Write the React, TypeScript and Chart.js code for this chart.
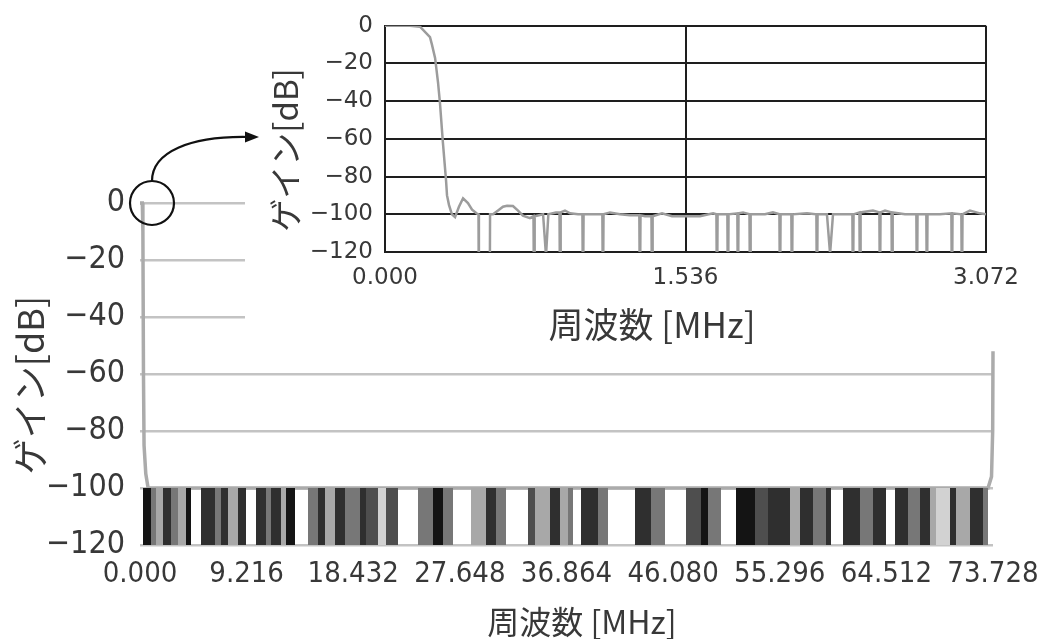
import React, { useEffect, useRef } from 'react';
import { Chart, registerables } from 'chart.js';
Chart.register(...registerables);

// ---------- tick values and labels ----------
const mainXTicks = [0, 9.216, 18.432, 27.648, 36.864, 46.08, 55.296, 64.512, 73.728];
const mainXTickLabels = ['0.000', '9.216', '18.432', '27.648', '36.864', '46.080', '55.296', '64.512', '73.728'];
const gainTicks = [0, -20, -40, -60, -80, -100, -120];
const gainTickLabels = ['0', '−20', '−40', '−60', '−80', '−100', '−120'];
const insetXTicks = [0, 1.536, 3.072];
const insetXTickLabels = ['0.000', '1.536', '3.072'];

const yTitle = 'ゲイン[dB]';
const xTitle = '周波数 [MHz]';

// ---------- main chart: response envelope ----------
const mainFreq = [0, 0.2, 0.25, 0.3, 0.35, 0.5, 0.7, 73.3, 73.6, 73.7, 73.728];
const mainGain = [0, 0, -10, -60, -85, -95, -100, -100, -96, -80, -52];

// ---------- main chart: dense noise floor bands (-100 .. below -120) ----------
const stripeStart = [0.259, 0.951, 1.383, 1.988, 2.679, 3.284, 3.976, 5.272, 6.483, 7.001, 7.606, 8.471,
  10.026, 10.891, 11.323, 12.187, 12.619, 14.521, 15.385, 15.99, 16.855, 17.719, 19.015, 19.534, 20.571,
  21.263, 24.029, 25.325, 26.189, 28.61, 29.906, 30.77, 33.536, 34.141, 35.438, 36.302, 36.994, 38.117,
  39.587, 42.785, 44.168, 47.193, 48.489, 49.094, 51.514, 53.157, 54.28, 56.182, 57.046, 58.17, 59.294,
  60.763, 62.232, 63.356, 65.258, 66.381, 67.419, 68.283, 68.802, 70.012, 70.53, 71.74, 72.864];
const stripeEnd = [0.951, 1.383, 1.988, 2.679, 3.284, 3.976, 4.408, 6.483, 7.001, 7.606, 8.471, 9.162,
  10.891, 11.323, 12.187, 12.619, 13.397, 15.385, 15.99, 16.855, 17.719, 19.015, 19.534, 20.571, 21.263,
  22.3, 25.325, 26.189, 27.054, 29.906, 30.77, 31.635, 34.141, 35.438, 36.302, 36.994, 37.426, 39.587,
  40.451, 44.168, 45.378, 48.489, 49.094, 50.218, 53.157, 54.28, 56.182, 57.046, 58.17, 59.294, 59.726,
  62.232, 63.356, 64.48, 66.381, 67.419, 68.283, 68.802, 70.012, 70.53, 71.74, 72.864, 73.296];
const stripeShade = ['B', 'M', 'L', 'D', 'M', 'L', 'B', 'D', 'M', 'D', 'L', 'D',
  'D', 'M', 'D', 'L', 'B', 'M', 'D', 'L', 'D', 'M', 'D', 'G', 'W',
  'G', 'M', 'B', 'M', 'L', 'D', 'M', 'G', 'L', 'D', 'L', 'M', 'D',
  'M', 'D', 'M', 'G', 'B', 'M', 'B', 'G', 'D', 'L', 'D', 'M', 'D',
  'D', 'M', 'D', 'D', 'M', 'D', 'L', 'W', 'D', 'L', 'D', 'M'];
const stripeTop = -100;
const shadeColors: Record<string, string> = {
  B: '#141414', D: '#2f2f2f', G: '#4e4e4e', M: '#777777', L: '#a8a8a8', W: '#d2d2d2',
};

// ---------- inset chart (0 .. 3.072 MHz) ----------
const insetFreq = [0, 0.128, 0.179, 0.23, 0.24, 0.256, 0.271, 0.281, 0.296, 0.312, 0.317, 0.327, 0.342,
  0.358, 0.378, 0.399, 0.424, 0.445, 0.469, 0.478, 0.48, 0.535, 0.537, 0.552, 0.578, 0.603, 0.624, 0.654,
  0.68, 0.705, 0.741, 0.759, 0.762, 0.765, 0.808, 0.823, 0.835, 0.874, 0.892, 0.895, 0.898, 0.92, 0.946,
  0.987, 1.009, 1.012, 1.015, 1.048, 1.089, 1.111, 1.114, 1.117, 1.15, 1.201, 1.252, 1.3, 1.303, 1.306,
  1.329, 1.362, 1.365, 1.368, 1.416, 1.467, 1.539, 1.61, 1.677, 1.694, 1.697, 1.7, 1.75, 1.753, 1.756,
  1.801, 1.804, 1.807, 1.83, 1.863, 1.866, 1.869, 1.942, 1.983, 2.016, 2.019, 2.022, 2.077, 2.08, 2.083,
  2.157, 2.205, 2.208, 2.211, 2.259, 2.275, 2.29, 2.351, 2.389, 2.392, 2.395, 2.425, 2.428, 2.431, 2.494,
  2.527, 2.53, 2.533, 2.556, 2.589, 2.592, 2.595, 2.658, 2.716, 2.719, 2.722, 2.767, 2.77, 2.773, 2.837,
  2.895, 2.898, 2.901, 2.946, 2.949, 2.952, 2.99, 3.041, 3.072];
const insetGain = [0, 0, -0.5, -6, -10, -17, -30, -41, -62, -82, -90, -95, -100,
  -101.5, -96, -91.5, -94, -97.5, -99.6, -100, -160, -160, -100, -100, -98, -96, -95.5, -95.6,
  -98, -100.7, -102, -101, -150, -101, -100, -122, -100, -99, -99, -150, -99, -98, -99.5,
  -100, -100, -150, -100, -100, -100, -100, -150, -100, -99, -100, -100.5, -100.5, -150, -100.5,
  -101, -101, -150, -101, -99.5, -101, -101, -101, -99.5, -100, -150, -100, -100, -150, -100,
  -99.5, -150, -99.5, -99, -100, -150, -100, -100, -99, -100, -150, -100, -100, -150, -100,
  -99.5, -100, -150, -100, -100, -121, -100, -100, -100, -150, -100, -99, -150, -99, -98,
  -99, -150, -99, -98, -99, -150, -99, -100, -100, -150, -100, -100, -150, -100, -100,
  -99.5, -150, -99.5, -100, -150, -100, -98, -99.5, -100];

// ---------- styling ----------
const TEXT = '#383838';
const mainXTickFont = { family: "'DejaVu Sans Condensed', 'DejaVu Sans', sans-serif", size: 29, weight: 'normal' as const };
const mainYTickFont = { family: "'DejaVu Sans Condensed', 'DejaVu Sans', sans-serif", size: 32, weight: 'normal' as const };
const insetTickFont = { family: "'DejaVu Sans', sans-serif", size: 23, weight: 'normal' as const };
const titleFamily = "'Noto Sans CJK JP', 'Noto Sans', sans-serif";

type TitleItem = { text: string; x: number; y: number; rot: number; size: number };

function titlesPlugin(id: string, items: TitleItem[]) {
  return {
    id,
    afterDraw(chart: any) {
      const ctx = chart.ctx as CanvasRenderingContext2D;
      ctx.save();
      ctx.fillStyle = TEXT;
      ctx.textAlign = 'center';
      ctx.textBaseline = 'middle';
      for (const it of items) {
        ctx.save();
        ctx.translate(it.x, it.y);
        ctx.rotate(it.rot);
        ctx.font = `${it.size}px ${titleFamily}`;
        ctx.fillText(it.text, 0, 0);
        ctx.restore();
      }
      ctx.restore();
    },
  };
}

export default function App() {
  const mainRef = useRef<HTMLCanvasElement>(null);
  const insetRef = useRef<HTMLCanvasElement>(null);

  useEffect(() => {
    document.body.style.margin = '0';

    const stripeSets = stripeStart.map((s, i) => ({
      type: 'line' as const,
      data: [{ x: s, y: stripeTop }, { x: stripeEnd[i], y: stripeTop }],
      borderWidth: 0,
      borderColor: 'rgba(0,0,0,0)',
      backgroundColor: shadeColors[stripeShade[i]],
      fill: 'start' as const,
      pointRadius: 0,
    }));

    const mainChart = new Chart(mainRef.current!, {
      type: 'line',
      data: {
        datasets: [
          ...stripeSets,
          {
            data: mainFreq.map((f, i) => ({ x: f, y: mainGain[i] })),
            borderColor: '#ababab',
            borderWidth: 3.5,
            pointRadius: 0,
            fill: false,
            clip: 4,
          } as any,
        ],
      },
      options: {
        animation: false,
        responsive: false,
        maintainAspectRatio: false,
        layout: { padding: { left: 0, top: 203, right: 44, bottom: 0 } },
        plugins: { legend: { display: false }, tooltip: { enabled: false } },
        scales: {
          x: {
            type: 'linear',
            min: 0,
            max: 73.728,
            afterBuildTicks: (s: any) => { s.ticks = mainXTicks.map((v) => ({ value: v })); },
            afterFit: (s: any) => { s.height = 94; s.paddingLeft = 0; s.paddingRight = 0; },
            grid: { display: false, drawTicks: false },
            border: { display: false },
            ticks: {
              autoSkip: false, maxRotation: 0, padding: 12, color: TEXT, font: mainXTickFont,
              callback: (_v: any, i: number) => mainXTickLabels[i],
            },
          },
          y: {
            min: -120,
            max: 0,
            afterBuildTicks: (s: any) => { s.ticks = gainTicks.map((v) => ({ value: v })); },
            afterFit: (s: any) => { s.width = 140; },
            grid: { color: '#c3c3c3', lineWidth: 2.5, drawTicks: false },
            border: { display: false },
            ticks: {
              padding: 15, color: TEXT, font: mainYTickFont,
              callback: (_v: any, i: number) => gainTickLabels[i],
            },
          },
        },
      },
      plugins: [
        titlesPlugin('mainTitles', [
          { text: yTitle, x: 30, y: 385, rot: -Math.PI / 2, size: 36 },
          { text: xTitle, x: 582, y: 622, rot: 0, size: 32 },
        ]),
      ],
    });

    const insetBg = {
      id: 'insetBg',
      beforeDraw(chart: any) {
        const ctx = chart.ctx as CanvasRenderingContext2D;
        ctx.save();
        ctx.fillStyle = '#ffffff';
        ctx.fillRect(145, 0, chart.width - 145, 345);
        ctx.restore();
      },
    };
    const callout = {
      id: 'callout',
      afterDraw(chart: any) {
        const ctx = chart.ctx as CanvasRenderingContext2D;
        ctx.save();
        ctx.strokeStyle = '#111';
        ctx.fillStyle = '#111';
        ctx.lineWidth = 2.2;
        ctx.beginPath();
        ctx.arc(52, 203, 22, 0, Math.PI * 2);
        ctx.stroke();
        ctx.beginPath();
        ctx.moveTo(52, 181);
        ctx.bezierCurveTo(52, 152, 90, 136, 148, 137);
        ctx.stroke();
        ctx.beginPath();
        ctx.moveTo(159, 137);
        ctx.lineTo(145, 131.5);
        ctx.lineTo(145, 142.5);
        ctx.closePath();
        ctx.fill();
        ctx.restore();
      },
    };

    const insetChart = new Chart(insetRef.current!, {
      type: 'line',
      data: {
        datasets: [
          {
            data: insetFreq.map((f, i) => ({ x: f, y: insetGain[i] })),
            borderColor: '#9c9c9c',
            borderWidth: 2.5,
            pointRadius: 0,
            fill: false,
          },
        ],
      },
      options: {
        animation: false,
        responsive: false,
        maintainAspectRatio: false,
        layout: { padding: { left: 145, top: 21, right: 51, bottom: 0 } },
        plugins: { legend: { display: false }, tooltip: { enabled: false } },
        scales: {
          x: {
            type: 'linear',
            min: 0,
            max: 3.072,
            afterBuildTicks: (s: any) => { s.ticks = insetXTicks.map((v) => ({ value: v })); },
            afterFit: (s: any) => { s.height = 98; s.paddingLeft = 0; s.paddingRight = 0; },
            grid: { color: '#1e1e1e', lineWidth: 2, drawTicks: false },
            border: { display: true, color: '#1e1e1e', width: 2 },
            ticks: {
              autoSkip: false, maxRotation: 0, padding: 12, color: TEXT, font: insetTickFont,
              callback: (_v: any, i: number) => insetXTickLabels[i],
            },
          },
          y: {
            min: -120,
            max: 0,
            afterBuildTicks: (s: any) => { s.ticks = gainTicks.map((v) => ({ value: v })); },
            afterFit: (s: any) => { s.width = 140; },
            grid: { color: '#1e1e1e', lineWidth: 2, drawTicks: false },
            border: { display: true, color: '#1e1e1e', width: 2 },
            ticks: {
              padding: 12, color: TEXT, font: insetTickFont,
              callback: (_v: any, i: number) => gainTickLabels[i],
            },
          },
        },
      },
      plugins: [
        insetBg,
        callout,
        titlesPlugin('insetTitles', [
          { text: yTitle, x: 185, y: 150, rot: -Math.PI / 2, size: 33 },
          { text: xTitle, x: 552, y: 325, rot: 0, size: 35 },
        ]),
      ],
    });

    return () => {
      mainChart.destroy();
      insetChart.destroy();
    };
  }, []);

  return (
    <div style={{ position: 'relative', width: 1037, height: 639, background: '#ffffff', overflow: 'hidden' }}>
      <canvas ref={mainRef} width={1037} height={639}
        style={{ position: 'absolute', left: 0, top: 0, width: 1037, height: 639 }} />
      <canvas ref={insetRef} width={937} height={350}
        style={{ position: 'absolute', left: 100, top: 0, width: 937, height: 350 }} />
    </div>
  );
}
